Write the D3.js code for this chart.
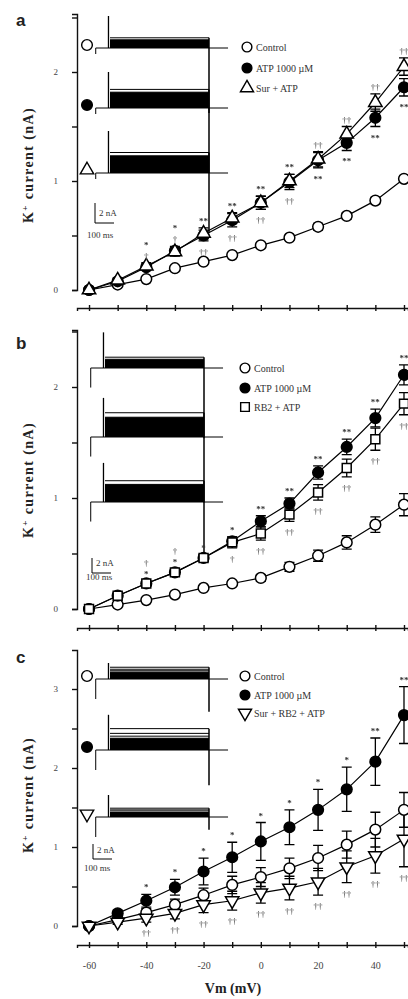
<!DOCTYPE html>
<html lang="en">
<head>
<meta charset="UTF-8">
<title>K+ current vs Vm</title>
<script src="https://d3js.org/d3.v7.min.js"></script>
<style>
  body { margin: 0; background: #fff; }
  svg { display: block; font-family: "Liberation Serif", serif; }
  .axis path, .axis line { stroke: #111; stroke-width: 1.4; }
  .axis text { font-family: "Liberation Serif", serif; font-size: 9px; fill: #444; }
</style>
</head>
<body>
<svg id="chart" width="408" height="999"></svg>
<script>
// voltage steps (mV)
var voltages = [-60, -50, -40, -30, -20, -10, 0, 10, 20, 30, 40, 50];
var xLabelTicks = [-60, -40, -20, 0, 20, 40];

// panel a
var aControl = [0, 0.05, 0.1, 0.2, 0.26, 0.32, 0.41, 0.48, 0.58, 0.68, 0.82, 1.02];
var aControlErr = [0, 0.01, 0.01, 0.02, 0.02, 0.02, 0.02, 0.02, 0.03, 0.03, 0.03, 0.03];
var aATP = [0, 0.08, 0.21, 0.36, 0.5, 0.64, 0.8, 0.99, 1.19, 1.35, 1.58, 1.86];
var aATPErr = [0, 0.02, 0.03, 0.04, 0.05, 0.06, 0.06, 0.07, 0.07, 0.07, 0.08, 0.08];
var aSur = [0, 0.09, 0.22, 0.35, 0.52, 0.66, 0.8, 1.0, 1.2, 1.43, 1.72, 2.05];
var aSurErr = [0, 0.02, 0.03, 0.04, 0.05, 0.05, 0.06, 0.06, 0.07, 0.07, 0.08, 0.08];
var aAbove = ["", "", "†|*", "†|*", "**", "**", "**", "**", "††", "††", "††", "††"];
var aBelow = ["", "", "", "", "††", "††", "††", "††", "**", "**", "**", "**"];

// panel b
var bControl = [0, 0.04, 0.08, 0.13, 0.19, 0.23, 0.28, 0.38, 0.48, 0.6, 0.76, 0.94];
var bControlErr = [0, 0.01, 0.01, 0.01, 0.02, 0.02, 0.03, 0.04, 0.05, 0.06, 0.07, 0.1];
var bATP = [0, 0.12, 0.23, 0.33, 0.46, 0.61, 0.79, 0.95, 1.23, 1.46, 1.72, 2.11];
var bATPErr = [0, 0.02, 0.02, 0.03, 0.03, 0.04, 0.05, 0.05, 0.06, 0.07, 0.08, 0.09];
var bRB2 = [0, 0.12, 0.23, 0.33, 0.46, 0.6, 0.68, 0.85, 1.05, 1.27, 1.53, 1.85];
var bRB2Err = [0, 0.02, 0.02, 0.03, 0.03, 0.05, 0.06, 0.06, 0.07, 0.08, 0.1, 0.1];
var bAbove = ["", "", "*|†", "*|†", "*", "*", "**", "**", "**", "**", "**", "**"];
var bBelow = ["", "", "", "", "", "†", "††", "††", "††", "††", "††", "††"];

// panel c
var cControl = [0, 0.08, 0.17, 0.27, 0.39, 0.52, 0.62, 0.73, 0.86, 1.03, 1.22, 1.47];
var cControlErr = [0, 0.03, 0.05, 0.07, 0.09, 0.11, 0.12, 0.13, 0.16, 0.17, 0.22, 0.22];
var cATP = [0, 0.16, 0.32, 0.49, 0.69, 0.87, 1.07, 1.25, 1.47, 1.73, 2.08, 2.67];
var cATPErr = [0, 0.04, 0.08, 0.1, 0.17, 0.19, 0.24, 0.22, 0.26, 0.28, 0.3, 0.36];
var cSurRB2 = [0, 0.05, 0.1, 0.16, 0.27, 0.32, 0.42, 0.48, 0.56, 0.75, 0.89, 1.1];
var cSurRB2Err = [0, 0.03, 0.05, 0.07, 0.1, 0.12, 0.13, 0.15, 0.17, 0.2, 0.22, 0.35];
var cAbove = ["", "", "*", "*", "*", "*", "*", "*", "*", "*", "**", "**"];
var cBelow = ["", "", "††", "††", "††", "††", "††", "††", "††", "††", "††", "††"];

var svg = d3.select("#chart");

// grey-only text rendering for the small marks
svg.append("defs").append("filter").attr("id", "grey")
  .append("feColorMatrix").attr("type", "saturate").attr("values", 0);

var symDownTri = {
  draw: function (ctx, size) {
    var y = -Math.sqrt(size / (Math.sqrt(3) * 3));
    ctx.moveTo(0, -y * 2);
    ctx.lineTo(-Math.sqrt(3) * y, y);
    ctx.lineTo(Math.sqrt(3) * y, y);
    ctx.closePath();
  }
};

var panels = [
  {
    letter: "a", letterY: 26, y0: 290, y1: 181, top: 14, axisY: 308, labelY: 165,
    series: [
      { name: "Control", v: aControl, e: aControlErr, sym: d3.symbolCircle, size: 90, fill: "#fff" },
      { name: "ATP 1000 µM", v: aATP, e: aATPErr, sym: d3.symbolCircle, size: 90, fill: "#000" },
      { name: "Sur + ATP", v: aSur, e: aSurErr, sym: d3.symbolTriangle, size: 78, fill: "#fff" }
    ],
    above: aAbove, below: aBelow,
    legend: { x: 247, ys: [47, 68, 88] },
    inset: { x0: 110, bases: [48, 108, 173], gain: 10, spikes: [3.2, 3.6, 4.2], tails: [6.5, 6.5, 6.0], onset: 0.6, markers: true,
             solid: 10, bar: { x: 95, y: 223, nA: 2 }, barText: [99, 216, 87, 238] }
  },
  {
    letter: "b", letterY: 349, y0: 609, y1: 498, top: 330, axisY: 628, labelY: 480,
    series: [
      { name: "Control", v: bControl, e: bControlErr, sym: d3.symbolCircle, size: 90, fill: "#fff" },
      { name: "ATP 1000 µM", v: bATP, e: bATPErr, sym: d3.symbolCircle, size: 90, fill: "#000" },
      { name: "RB2 + ATP", v: bRB2, e: bRB2Err, sym: d3.symbolSquare, size: 80, fill: "#fff" }
    ],
    above: bAbove, below: bBelow,
    legend: { x: 245, ys: [368, 388, 407] },
    inset: { x0: 105, bases: [368, 437, 502], gain: 11.5, spikes: [3.1, 3.4, 3.4], tails: [6.1, 5.7, 4.4], onset: 1.7, markers: false,
             solid: 10, bar: { x: 92, y: 573, nA: 1.5 }, barText: [96, 566, 86, 580] }
  },
  {
    letter: "c", letterY: 663, y0: 926, y1: 847, top: 650, axisY: 945, labelY: 795,
    series: [
      { name: "Control", v: cControl, e: cControlErr, sym: d3.symbolCircle, size: 90, fill: "#fff" },
      { name: "ATP 1000 µM", v: cATP, e: cATPErr, sym: d3.symbolCircle, size: 90, fill: "#000" },
      { name: "Sur + RB2 + ATP", v: cSurRB2, e: cSurRB2Err, sym: symDownTri, size: 78, fill: "#fff" }
    ],
    above: cAbove, below: cBelow,
    legend: { x: 245, ys: [676, 695, 713] },
    inset: { x0: 110, bases: [679, 750, 817], gain: 8, spikes: [2, 4.4, 2.75], tails: [4.1, 4.4, 1.6], onset: 2.5, markers: true,
             solid: 8, bar: { x: 93, y: 859, nA: 1.5 }, barText: [97, 853, 84, 871] }
  }
];

// x scale shared by all panels (axis line runs 77 -> 408)
var x = d3.scaleLinear().domain([-64.2, 51.4]).range([77, 408]);

panels.forEach(function (p, pi) {
  var per = p.y0 - p.y1;
  var y = d3.scaleLinear().domain([0, (p.y0 - p.top) / per]).range([p.y0, p.top]);
  var g = svg.append("g");

  // panel letter
  g.append("text").attr("x", 16).attr("y", p.letterY)
    .style("font-family", "Liberation Sans, sans-serif").style("font-weight", "bold")
    .style("font-size", "17px").attr("fill", "#222").text(p.letter);

  // y label
  var yl = g.append("text")
    .attr("transform", "translate(33," + p.labelY + ") rotate(-90)")
    .attr("text-anchor", "middle").style("letter-spacing", "1.4px")
    .style("font-weight", "bold").style("font-size", "14px").attr("fill", "#222");
  yl.append("tspan").text("K");
  yl.append("tspan").attr("dy", -5).style("font-size", "9px").text("+");
  yl.append("tspan").attr("dy", 5).text(" current (nA)");

  // y axis
  var yMax = Math.floor(y.domain()[1] * 2) / 2;
  var yTicks = d3.range(0, yMax + 0.01, 0.5);
  g.append("g").attr("class", "axis").attr("transform", "translate(77,0)")
    .call(d3.axisLeft(y).tickValues(yTicks).tickSizeOuter(0).tickSize(5).tickPadding(14)
      .tickFormat(function (d) { return d % 1 === 0 ? d : ""; }));

  // x axis
  var xa = g.append("g").attr("class", "axis").attr("transform", "translate(0," + p.axisY + ")")
    .call(d3.axisBottom(x).tickValues(voltages).tickSizeOuter(0).tickSize(3).tickPadding(14)
      .tickFormat(function (d) { return (pi === 2 && xLabelTicks.indexOf(d) >= 0) ? String(d) : ""; }));
  xa.selectAll(".tick line").attr("y1", -3);
  xa.selectAll("text").style("font-size", "10px");

  // inset current traces
  var ins = p.inset;
  var ix = d3.scaleLinear().domain([0, 520]).range([ins.x0, ins.x0 + 99]);
  p.series.forEach(function (s, si) {
    var base = ins.bases[si];
    var tg = g.append("g").attr("fill", "none").attr("stroke", "#000").attr("stroke-width", 1);
    // solid part of the trace family
    var solid = s.v[ins.solid] * ins.gain;
    tg.append("rect").attr("x", ix(0)).attr("y", base - solid).attr("width", ix(520) - ix(0))
      .attr("height", solid).attr("fill", "#000").attr("stroke", "none");
    s.v.slice(ins.solid).forEach(function (val) {
      var lvl = base - val * ins.gain;
      tg.append("path").attr("d", d3.line()([[ix(0), lvl], [ix(520), lvl]]));
    });
    tg.append("path").attr("d", d3.line()([[ix(-75), base], [ix(620), base]]));
    tg.append("path").attr("d", d3.line()([[ix(-75), base], [ix(-75), base + ins.onset * ins.gain]]));
    tg.append("path").attr("d", d3.line()([[ix(-8), base], [ix(-8), base - ins.spikes[si] * ins.gain]]))
      .attr("stroke-width", 1.3);
    tg.append("path").attr("d", d3.line()([[ix(520), base - d3.max(s.v) * ins.gain], [ix(520), base + ins.tails[si] * ins.gain]]))
      .attr("stroke-width", 1.5);
    if (ins.markers) {
      g.append("path").attr("transform", "translate(87," + (base - 3) + ")")
        .attr("d", d3.symbol().type(s.sym).size(s.size)())
        .attr("fill", s.fill).attr("stroke", "#000").attr("stroke-width", 1.4);
    }
  });

  // scale bar
  var bl = ins.bar.nA * 10;
  g.append("path").attr("fill", "none").attr("stroke", "#000").attr("stroke-width", 1)
    .attr("d", d3.line()([[ins.bar.x, ins.bar.y - bl], [ins.bar.x, ins.bar.y], [ins.bar.x + 19, ins.bar.y]]));
  g.append("text").attr("x", ins.barText[0]).attr("y", ins.barText[1]).style("font-size", "9px").attr("fill", "#333").text("2 nA");
  g.append("text").attr("x", ins.barText[2]).attr("y", ins.barText[3]).style("font-size", "9px").attr("fill", "#333").text("100 ms");

  // lines
  var line = d3.line().x(function (d, i) { return x(voltages[i]); }).y(function (d) { return y(d); });
  p.series.forEach(function (s) {
    g.append("path").datum(s.v).attr("d", line).attr("fill", "none").attr("stroke", "#000").attr("stroke-width", 1.2);
  });

  // error bars
  p.series.forEach(function (s) {
    s.v.forEach(function (val, i) {
      if (s.e[i] < 0.02) return;
      var cx = x(voltages[i]), t = y(val + s.e[i]), b = y(val - s.e[i]);
      g.append("path").attr("fill", "none").attr("stroke", "#000").attr("stroke-width", 1.3)
        .attr("d", "M" + cx + "," + t + "V" + b + "M" + (cx - 5) + "," + t + "H" + (cx + 5) + "M" + (cx - 5) + "," + b + "H" + (cx + 5));
    });
  });

  // markers
  p.series.forEach(function (s) {
    g.selectAll(null).data(s.v).enter().append("path")
      .attr("transform", function (d, i) { return "translate(" + x(voltages[i]) + "," + y(d) + ")"; })
      .attr("d", d3.symbol().type(s.sym).size(s.size))
      .attr("fill", s.fill).attr("stroke", "#000").attr("stroke-width", 1.5);
  });

  // significance marks (relative to the two treatment series)
  var tr = p.series.slice(1);
  var mg = g.append("g").attr("filter", "url(#grey)");
  voltages.forEach(function (v, i) {
    var hi = d3.max(tr, function (s) { return s.v[i] + s.e[i]; });
    var lo = d3.min(tr, function (s) { return s.v[i] - s.e[i]; });
    if (p.above[i]) {
      p.above[i].split("|").forEach(function (m, k) {
        mg.append("text").attr("x", x(v)).attr("y", y(hi) - 4 - k * 11).attr("text-anchor", "middle")
          .style("font-size", "9px").style("font-weight", "bold")
          .attr("fill", m.indexOf("*") >= 0 ? "#333" : "#777").text(m);
      });
    }
    if (p.below[i]) {
      p.below[i].split("|").forEach(function (m, k) {
        mg.append("text").attr("x", x(v)).attr("y", y(lo) + 14 + k * 11).attr("text-anchor", "middle")
          .style("font-size", "9px").style("font-weight", "bold")
          .attr("fill", m.indexOf("*") >= 0 ? "#333" : "#777").text(m);
      });
    }
  });

  // legend
  p.series.forEach(function (s, si) {
    var ly = p.legend.ys[si];
    g.append("path").attr("transform", "translate(" + p.legend.x + "," + ly + ")")
      .attr("d", d3.symbol().type(s.sym).size(75)())
      .attr("fill", s.fill).attr("stroke", "#000").attr("stroke-width", 1.4);
    g.append("text").attr("x", p.legend.x + 9).attr("y", ly + 3.5)
      .style("font-size", "10px").attr("fill", "#333").text(s.name);
  });
});

// x axis title
svg.append("text").attr("x", 233).attr("y", 993).attr("text-anchor", "middle")
  .style("font-weight", "bold").style("font-size", "14px").attr("fill", "#222").text("Vm (mV)");
</script>
</body>
</html>
